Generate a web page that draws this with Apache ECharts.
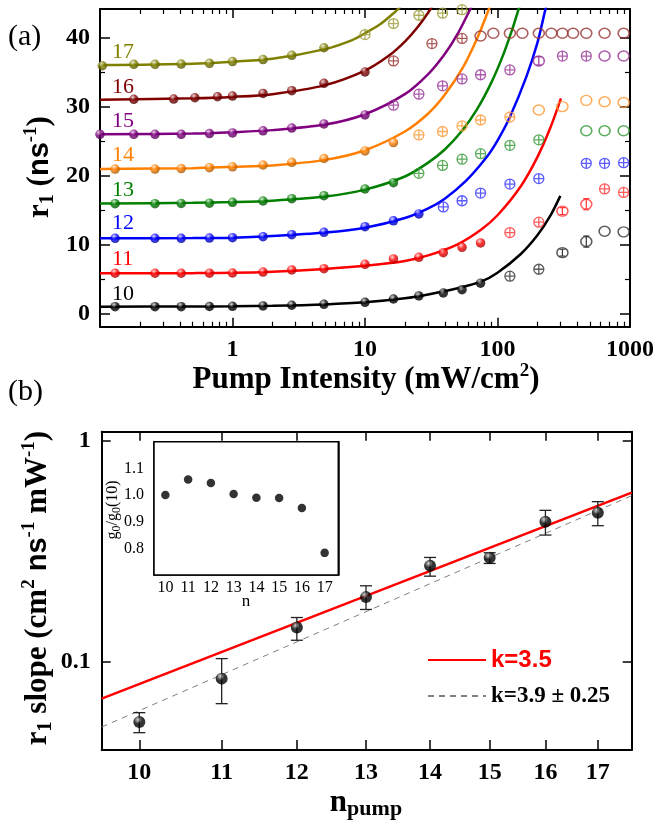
<!DOCTYPE html>
<html><head><meta charset="utf-8">
<script src="https://cdn.jsdelivr.net/npm/echarts@6/dist/echarts.min.js"></script>
<style>html,body{margin:0;padding:0;background:#fff}#c{width:657px;height:825px}</style>
</head><body><div id="c"></div>
<script>
// ---------- tick values ----------
const intensityLabels = [1, 10, 100, 1000];
const intensityMajor = [1, 10, 100];
const intensityMinor = [0.2,0.3,0.4,0.5,0.6,0.7,0.8,0.9,2,3,4,5,6,7,8,9,20,30,40,50,60,70,80,90,200,300,400,500,600,700,800,900];
const r1Major = [0, 10, 20, 30, 40];
const r1Minor = [5, 15, 25, 35];
const slopeTicks = [0.1, 1];
const nPump = [10, 11, 12, 13, 14, 15, 16, 17];
const ratioLabels = [0.8, 0.9, 1.0, 1.1];
const ratioTicks = [0.75, 0.8, 0.85, 0.9, 0.95, 1.0, 1.05, 1.1, 1.15];
const curveNames = ['10','11','12','13','14','15','16','17'];

// ---------- panel (a): r1 vs pump intensity ----------
const filled10 = [[0.13,1.1],[0.26,1.1],[0.41,1.1],[0.67,1.12],[1.0,1.15],[1.7,1.2],[2.8,1.3],[4.9,1.44],[10,1.73],[16.4,2.2],[25.5,2.64],[39,3.07],[54,3.55],[74.5,4.48]];
const crossed10 = [[124,5.5],[205,6.5]];
const open10 = [[309,8.9],[468,10.5],[643,12.0],[895,11.9]];
const err10 = [[309,8.4,9.4],[468,9.7,11.3]];
const fit10 = [[0.1,1.1],[0.5,1.12],[1,1.15],[2,1.22],[5,1.42],[10,1.72],[20,2.3],[30,2.85],[50,3.75],[75,4.7],[100,6.0],[150,8.7],[200,11.4],[250,14.2],[298,17.1]];

const filled11 = [[0.13,5.92],[0.26,5.92],[0.41,5.92],[0.67,5.94],[1.0,5.96],[1.7,6.1],[2.8,6.4],[4.9,6.58],[10,7.22],[16.4,7.99],[25.5,8.23],[39,8.9],[54,9.67],[74.5,10.3]];
const crossed11 = [[124,11.8],[205,13.3],[643,18.1],[895,17.6]];
const open11 = [[309,14.9],[468,15.9]];
const err11 = [[309,14.4,15.4],[468,15.1,16.7]];
const fit11 = [[0.1,5.92],[0.5,5.94],[1,5.98],[2,6.15],[5,6.55],[10,7.0],[20,7.7],[30,8.5],[50,10.1],[75,12.2],[100,14.3],[150,18.5],[200,22.7],[250,26.9],[301,31.2]];

const filled12 = [[0.13,10.97],[0.26,10.97],[0.41,10.97],[0.67,11.0],[1.0,11.06],[1.7,11.2],[2.8,11.5],[4.9,11.84],[10,12.65],[16.4,13.5],[25.5,14.5]];
const crossed12 = [[39,15.5],[54,16.4],[74.5,17.5],[124,18.8],[205,19.6],[468,21.8],[643,21.8],[895,21.9]];
const open12 = [];
const err12 = [];
const fit12 = [[0.1,10.97],[0.5,11.0],[1,11.06],[2,11.3],[5,11.8],[10,12.5],[20,13.9],[30,15.3],[40,16.7],[58,19.3],[82,22.6],[100,25.1],[124,28.5],[165,34.3],[200,39.2],[229,43.9],[240,45.4]];

const filled13 = [[0.13,15.97],[0.26,15.97],[0.41,16.0],[0.67,16.05],[1.0,16.17],[1.7,16.36],[2.8,16.7],[4.9,17.13],[10,18.1],[16.4,19.0]];
const crossed13 = [[25.5,20.36],[38.5,21.5],[54,22.4],[74.5,23.2],[124,24.4],[205,25.2]];
const open13 = [[468,26.5],[643,26.5],[895,26.5]];
const err13 = [];
const fit13 = [[0.1,16.0],[0.5,16.1],[1,16.2],[2,16.4],[5,17.0],[10,18.0],[20,19.9],[30,21.9],[40,23.8],[54,26.5],[70,29.6],[90,33.5],[110,37.4],[130,41.3],[145,44.2],[150,45.2]];

const filled14 = [[0.13,20.98],[0.26,20.98],[0.41,21.05],[0.67,21.17],[1.0,21.3],[1.7,21.56],[2.8,21.95],[4.9,22.5],[10,23.6],[16.4,24.8]];
const crossed14 = [[25.5,25.9],[38.5,26.4],[54,27.2],[74.5,28.06],[124,28.5]];
const open14 = [[205,29.5],[309,30.0],[468,30.9],[643,30.7],[895,30.6]];
const err14 = [];
const fit14 = [[0.1,21.0],[0.5,21.1],[1,21.3],[2,21.5],[5,22.3],[10,23.7],[20,26.4],[30,29.0],[40,31.7],[55,35.7],[70,39.8],[85,43.8],[90,45.1]];

const filled15 = [[0.1,26.0],[0.18,26.0],[0.26,26.0],[0.41,26.0],[0.67,26.1],[1.0,26.2],[1.7,26.5],[2.8,26.9],[4.9,27.5],[10,28.8]];
const crossed15 = [[16.4,30.2],[25.5,31.8],[38.5,33.0],[54,34.0],[74.5,34.6],[124,35.3],[309,37.3],[468,37.3]];
const open15 = [[205,36.6],[643,37.3],[895,37.3]];
const err15 = [[205,36.0,37.2]];
const fit15 = [[0.1,26.0],[0.5,26.1],[1,26.3],[2,26.6],[5,27.4],[10,28.9],[20,31.8],[30,34.7],[40,37.6],[50,40.5],[62,44.0],[66,45.1]];

const filled16 = [[0.18,31.05],[0.36,31.09],[0.52,31.28],[0.77,31.42],[1.0,31.52],[1.7,31.9],[2.8,32.3],[4.9,33.36],[10,35.0]];
const crossed16 = [[16.4,36.6],[32,39.1],[54,39.85]];
const open16 = [[74.5,40.2],[93,40.6],[124,40.6],[154,40.6],[205,40.6],[255,40.6],[309,40.6],[372,40.6],[468,40.6],[643,40.6],[895,40.6]];
const err16 = [];
const fit16 = [[0.1,31.0],[0.5,31.2],[1,31.4],[2,31.8],[5,33.1],[10,35.2],[15,37.3],[20,39.4],[25,41.5],[31,44.0],[33,44.9]];

const filled17 = [[0.104,35.9],[0.18,36.1],[0.26,36.1],[0.41,36.14],[0.67,36.25],[1.0,36.5],[1.7,36.8],[2.8,37.4],[4.9,38.5]];
const crossed17 = [[10,40.4],[16.4,42.0],[25.5,43.2],[38.5,43.5],[54,44.0]];
const open17 = [];
const err17 = [];
const fit17 = [[0.1,36.0],[0.5,36.2],[1,36.5],[2,36.9],[5,38.3],[8,39.6],[10,40.6],[13,41.9],[16,43.3],[18,44.2],[20,45.1]];

// ---------- panel (b): slope vs n ----------
const slopeVal = [0.0535, 0.0841, 0.1432, 0.1965, 0.2723, 0.2958, 0.4306, 0.4732];
const slopeLo  = [0.0479, 0.0648, 0.1254, 0.1728, 0.2444, 0.2790, 0.3750, 0.4134];
const slopeHi  = [0.0590, 0.1036, 0.1589, 0.2211, 0.2970, 0.3119, 0.4850, 0.5310];
const fitK35 = [[9.574, 0.0683], [17.68, 0.583]];
const fitK39 = [[9.574, 0.0508], [17.68, 0.565]];
const gainRatio = [1.0, 1.058, 1.045, 1.004, 0.990, 0.989, 0.951, 0.783];

// ---------- styling helpers ----------
const SERIF = '"Liberation Serif","Times New Roman",serif';
const SANS = '"Liberation Sans",Arial,sans-serif';
const colors = ['#000000','#ff0000','#0000ff','#008000','#ff8000','#800080','#800000','#808000'];
function rgb(hex){return [parseInt(hex.slice(1,3),16),parseInt(hex.slice(3,5),16),parseInt(hex.slice(5,7),16)];}
function mix(hex, target, t){const c=rgb(hex);return 'rgb('+c.map(v=>Math.round(v+(target-v)*t)).join(',')+')';}
function ball(hex){return {type:'radial',x:0.38,y:0.3,r:0.75,global:false,colorStops:[{offset:0,color:mix(hex,255,0.8)},{offset:0.45,color:hex},{offset:1,color:mix(hex,0,0.4)}]};}
const crossSym = 'path://M20,10A10,10,0,1,1,0,10A10,10,0,1,1,20,10ZM0,10L20,10M10,0L10,20';
function errBars(color, cap, width){
  return function(params, api){
    const x=api.value(0), lo=api.value(1), hi=api.value(2);
    const a=api.coord([x,lo]), b=api.coord([x,hi]);
    return {type:'group',children:[
      {type:'line',shape:{x1:a[0],y1:a[1],x2:b[0],y2:b[1]},style:{stroke:color,lineWidth:width}},
      {type:'line',shape:{x1:a[0]-cap,y1:a[1],x2:a[0]+cap,y2:a[1]},style:{stroke:color,lineWidth:width}},
      {type:'line',shape:{x1:b[0]-cap,y1:b[1],x2:b[0]+cap,y2:b[1]},style:{stroke:color,lineWidth:width}}
    ]};
  };
}
const topSets = [
  [fit10,filled10,crossed10,open10,err10],[fit11,filled11,crossed11,open11,err11],
  [fit12,filled12,crossed12,open12,err12],[fit13,filled13,crossed13,open13,err13],
  [fit14,filled14,crossed14,open14,err14],[fit15,filled15,crossed15,open15,err15],
  [fit16,filled16,crossed16,open16,err16],[fit17,filled17,crossed17,open17,err17]
];

const series = [];
topSets.forEach((s, i) => {
  const c = colors[i], light = mix(c,255,0.2);
  series.push({type:'line',xAxisIndex:0,yAxisIndex:0,data:s[0],symbol:'none',smooth:0.3,lineStyle:{color:c,width:2.5},z:2,silent:true});
  series.push({type:'scatter',xAxisIndex:0,yAxisIndex:0,data:s[1],symbol:'circle',symbolSize:9.5,itemStyle:{color:ball(c)},z:4});
  series.push({type:'scatter',xAxisIndex:0,yAxisIndex:0,data:s[2],symbol:crossSym,symbolSize:10,itemStyle:{color:'rgba(255,255,255,0)',borderColor:light,borderWidth:1.3},z:4});
  series.push({type:'scatter',xAxisIndex:0,yAxisIndex:0,data:s[3],symbol:'circle',symbolSize:[11,10],itemStyle:{color:'rgba(255,255,255,0)',borderColor:light,borderWidth:1.5},z:4});
  series.push({type:'custom',xAxisIndex:0,yAxisIndex:0,data:s[4],encode:{x:0,y:[1,2]},renderItem:errBars(light,3,1.2),z:3});
});
// panel (b)
series.push({type:'line',name:'k=3.5',xAxisIndex:4,yAxisIndex:4,data:fitK35,symbol:'none',lineStyle:{color:'#ff0000',width:2.5},itemStyle:{color:'#ff0000',opacity:0},z:2});
series.push({type:'line',name:'k=3.9 \u00b1 0.25',xAxisIndex:4,yAxisIndex:4,data:fitK39,symbol:'none',lineStyle:{color:'#808080',width:1,type:[6,5]},itemStyle:{color:'#808080',opacity:0},z:2});
series.push({type:'custom',xAxisIndex:4,yAxisIndex:4,data:nPump.map((n,i)=>[n,slopeLo[i],slopeHi[i]]),encode:{x:0,y:[1,2]},renderItem:errBars('#222',6,1.3),z:3});
series.push({type:'scatter',xAxisIndex:4,yAxisIndex:4,data:nPump.map((n,i)=>[n,slopeVal[i]]),symbol:'circle',symbolSize:12,itemStyle:{color:ball('#000000')},z:4});
// inset
series.push({type:'scatter',xAxisIndex:6,yAxisIndex:6,data:nPump.map((n,i)=>[n,gainRatio[i]]),symbol:'circle',symbolSize:8.5,itemStyle:{color:'#000'},z:6});

const LINE = {show:true,onZero:false,lineStyle:{color:'#000',width:2}};
const NOLINE = {show:false,onZero:false};
function ax(o){return Object.assign({splitLine:{show:false},splitArea:{show:false}},o);}
const bigLabel = {fontFamily:SERIF,fontWeight:'bold',fontSize:24,color:'#000'};

const xAxis = [
  ax({gridIndex:0,type:'log',min:0.1,max:1000,position:'bottom',axisLine:LINE,
      axisTick:{inside:true,length:9,customValues:intensityMajor,lineStyle:{color:'#000',width:1.5}},
      axisLabel:Object.assign({customValues:intensityLabels,margin:11,formatter:v=>String(v)},bigLabel)}),
  ax({gridIndex:0,type:'log',min:0.1,max:1000,position:'bottom',axisLine:NOLINE,
      axisTick:{inside:true,length:5,customValues:intensityMinor,lineStyle:{color:'#000',width:1.2}},axisLabel:{show:false}}),
  ax({gridIndex:0,type:'log',min:0.1,max:1000,position:'top',axisLine:LINE,
      axisTick:{inside:true,length:9,customValues:intensityMajor,lineStyle:{color:'#000',width:1.5}},axisLabel:{show:false}}),
  ax({gridIndex:0,type:'log',min:0.1,max:1000,position:'top',axisLine:NOLINE,
      axisTick:{inside:true,length:5,customValues:intensityMinor,lineStyle:{color:'#000',width:1.2}},axisLabel:{show:false}}),
  ax({gridIndex:1,type:'log',min:9.574,max:17.68,position:'bottom',axisLine:LINE,
      axisTick:{inside:true,length:10,customValues:nPump,lineStyle:{color:'#000',width:1.5}},
      axisLabel:Object.assign({customValues:nPump,margin:11,formatter:v=>String(Math.round(v))},bigLabel)}),
  ax({gridIndex:1,type:'log',min:9.574,max:17.68,position:'top',axisLine:LINE,
      axisTick:{inside:true,length:9,customValues:nPump,lineStyle:{color:'#000',width:1.5}},axisLabel:{show:false}}),
  ax({gridIndex:2,type:'value',min:9.5,max:17.6,position:'bottom',axisLine:{show:true,onZero:false,lineStyle:{color:'#000',width:1.5}},
      axisTick:{inside:true,length:5,customValues:nPump,lineStyle:{color:'#000',width:1.2}},
      axisLabel:{customValues:nPump,margin:5,fontFamily:SERIF,fontSize:16,color:'#000'}})
];
const yAxis = [
  ax({gridIndex:0,type:'value',min:-1.8,max:44.1,position:'left',axisLine:LINE,
      axisTick:{inside:true,length:10,customValues:r1Major,lineStyle:{color:'#000',width:1.5}},
      axisLabel:Object.assign({customValues:r1Major,margin:10},bigLabel)}),
  ax({gridIndex:0,type:'value',min:-1.8,max:44.1,position:'left',axisLine:NOLINE,
      axisTick:{inside:true,length:5,customValues:r1Minor,lineStyle:{color:'#000',width:1.2}},axisLabel:{show:false}}),
  ax({gridIndex:0,type:'value',min:-1.8,max:44.1,position:'right',axisLine:LINE,
      axisTick:{inside:true,length:10,customValues:r1Major,lineStyle:{color:'#000',width:1.5}},axisLabel:{show:false}}),
  ax({gridIndex:0,type:'value',min:-1.8,max:44.1,position:'right',axisLine:NOLINE,
      axisTick:{inside:true,length:5,customValues:r1Minor,lineStyle:{color:'#000',width:1.2}},axisLabel:{show:false}}),
  ax({gridIndex:1,type:'log',min:0.04,max:1.1,position:'left',axisLine:LINE,
      axisTick:{inside:true,length:9,customValues:slopeTicks,lineStyle:{color:'#000',width:1.5}},
      axisLabel:Object.assign({customValues:slopeTicks,margin:11,formatter:v=>String(v)},bigLabel)}),
  ax({gridIndex:1,type:'log',min:0.04,max:1.1,position:'right',axisLine:LINE,
      axisTick:{inside:true,length:9,customValues:slopeTicks,lineStyle:{color:'#000',width:1.5}},axisLabel:{show:false}}),
  ax({gridIndex:2,type:'value',min:0.7,max:1.2,position:'left',axisLine:{show:true,onZero:false,lineStyle:{color:'#000',width:1.5}},
      axisTick:{inside:true,length:5,customValues:ratioTicks,lineStyle:{color:'#000',width:1.2}},
      axisLabel:{customValues:ratioLabels,margin:10,fontFamily:SERIF,fontSize:16,color:'#000',formatter:v=>v.toFixed(1)}}),
  ax({gridIndex:2,type:'value',min:0.7,max:1.2,position:'right',axisLine:{show:true,onZero:false,lineStyle:{color:'#000',width:1.5}},
      axisTick:{inside:true,length:5,customValues:ratioTicks,lineStyle:{color:'#000',width:1.2}},axisLabel:{show:false}})
];

function T(x,y,text,rich,extra){
  return Object.assign({type:'text',x:x,y:y,silent:true,z:10,
    style:{text:text,rich:rich,align:'center',verticalAlign:'middle',textAlign:'center',textVerticalAlign:'middle'}},extra||{});
}
function tok(size,weight,family,va,lh){return {fontSize:size,fontWeight:weight,fontFamily:family,color:'#000',verticalAlign:va,lineHeight:lh};}

const graphics = [];
const labelY = [294, 259, 223, 190, 155, 121, 87, 52];
curveNames.forEach((name,i)=>{
  graphics.push({type:'text',x:112,y:labelY[i],silent:true,z:10,style:{text:name,fill:colors[i],font:'22px '+SERIF,align:'left',verticalAlign:'middle',textAlign:'left',textVerticalAlign:'middle'}});
});
graphics.push({type:'text',x:8,y:37,silent:true,style:{text:'(a)',fill:'#000',font:'30px '+SERIF,align:'left',verticalAlign:'middle'}});
graphics.push({type:'text',x:8,y:392,silent:true,style:{text:'(b)',fill:'#000',font:'30px '+SERIF,align:'left',verticalAlign:'middle'}});
const richTitle = {
  t:tok(31,'bold',SERIF,'middle',36), ns:tok(29,'bold',SANS,'middle',36),
  sup:tok(19,'bold',SERIF,'top',19), sub:tok(20,'bold',SERIF,'bottom',19)
};
graphics.push(T(40,167,'{t|r}{sub|1}{t| (}{ns|ns}{sup|-1}{t|)}',richTitle,{rotation:Math.PI/2}));
graphics.push(T(366,380,'{t|Pump Intensity (mW/cm}{sup|2}{t|)}',richTitle));
graphics.push(T(38,588,'{t|r}{sub|1}{t| slope (cm}{sup|2}{ns| ns}{sup|-1}{t| mW}{sup|-1}{t|)}',richTitle,{rotation:Math.PI/2}));
graphics.push(T(366,803,'{n|n}{sub|pump}',{n:tok(31,'bold',SERIF,'middle',34),sub:tok(22,'bold',SERIF,'bottom',22)}));
const richInset = {t:tok(16,'normal',SERIF,'middle',19),sub:tok(12,'normal',SERIF,'bottom',12)};
graphics.push(T(113,510,'{t|g}{sub|0}{t|/g}{sub|0}{t|(10)}',richInset,{rotation:Math.PI/2}));
graphics.push(T(246,602,'{t|n}',{t:tok(17,'normal',SERIF,'middle',19)}));

const option = {
  animation:false,
  backgroundColor:'#fff',
  grid:[
    {left:100,top:9,width:530.7,height:317.7},
    {left:101.7,top:431.7,width:530,height:318.3},
    {left:154,top:441.7,width:184.3,height:133.3,show:true,backgroundColor:'#fff',borderColor:'#000',borderWidth:1.5,z:5}
  ],
  xAxis:xAxis, yAxis:yAxis,
  legend:{left:427,top:648,padding:0,orient:'vertical',itemWidth:58,itemHeight:14,itemGap:12,selectedMode:false,
    itemStyle:{opacity:0},
    data:[
      {name:'k=3.5',itemStyle:{opacity:0},textStyle:{color:'#ff0000',fontFamily:SANS,fontWeight:'bold',fontSize:24,lineHeight:24}},
      {name:'k=3.9 \u00b1 0.25',itemStyle:{opacity:0},textStyle:{color:'#000',fontFamily:SERIF,fontWeight:'bold',fontSize:23,lineHeight:24}}
    ]},
  series:series,
  graphic:graphics
};
const chart = echarts.init(document.getElementById('c'),null,{renderer:'canvas'});
chart.setOption(option);
</script>
</body></html>
